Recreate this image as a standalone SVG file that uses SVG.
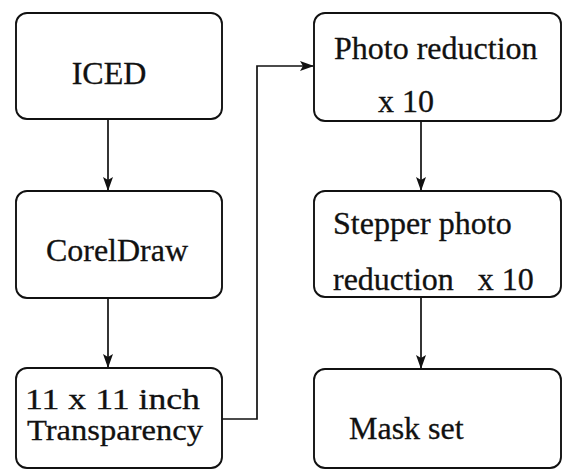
<svg xmlns="http://www.w3.org/2000/svg" width="562" height="470" viewBox="0 0 562 470">
<style>
.box{fill:#fff;stroke:#111;stroke-width:1.9}
.t{font-family:"Liberation Serif","Times New Roman",serif;font-size:32px;fill:#111;stroke:#111;stroke-width:0.3}
.s{font-size:30px}
.c{fill:none;stroke:#111;stroke-width:1.7}
</style>
<defs>
<marker id="ah" markerWidth="14" markerHeight="10" refX="13" refY="5" orient="auto" markerUnits="userSpaceOnUse" viewBox="0 0 14 10">
<path d="M0,0 L14,5 L0,10 L3,5 Z" fill="#111"/>
</marker>
</defs>
<rect width="562" height="470" fill="#fff"/>
<g id="iced"><rect class="box" x="16" y="13" width="206" height="106" rx="11"/><text class="t" x="109" y="84" text-anchor="middle">ICED</text></g>
<g id="coreldraw"><rect class="box" x="16" y="191" width="206" height="107" rx="11"/><text class="t" x="117" y="261" text-anchor="middle">CorelDraw</text></g>
<g id="transparency"><rect class="box" x="16" y="368" width="206" height="100" rx="11"/><text class="t s" x="25" y="409" textLength="175" lengthAdjust="spacingAndGlyphs">11 x 11 inch</text><text class="t s" x="27" y="440" textLength="176" lengthAdjust="spacingAndGlyphs">Transparency</text></g>
<g id="photo"><rect class="box" x="314" y="13" width="247" height="108" rx="11"/><text class="t" x="334" y="59">Photo reduction</text><text class="t" x="378" y="112">x 10</text></g>
<g id="stepper"><rect class="box" x="314" y="191" width="247" height="106" rx="11"/><text class="t" x="333" y="234">Stepper photo</text><text class="t" x="333" y="290" xml:space="preserve">reduction   x 10</text></g>
<g id="mask"><rect class="box" x="314" y="369" width="247" height="99" rx="11"/><text class="t" x="349" y="439">Mask set</text></g>
<g id="connectors">
<path class="c" d="M108,119 V190" marker-end="url(#ah)"/>
<path class="c" d="M108,298 V367" marker-end="url(#ah)"/>
<path class="c" d="M222,419 H257 V66 H313" marker-end="url(#ah)"/>
<path class="c" d="M421,121 V190" marker-end="url(#ah)"/>
<path class="c" d="M421,297 V368" marker-end="url(#ah)"/>
</g>
</svg>
